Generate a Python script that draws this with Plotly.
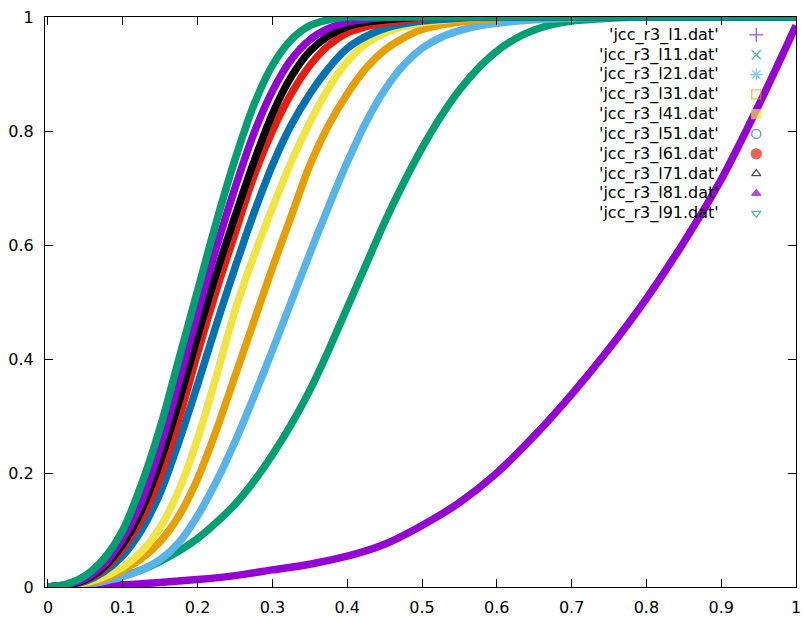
import plotly.graph_objects as go

# ---------------- data ----------------
labels = ["'jcc_r3_l1.dat'", "'jcc_r3_l11.dat'", "'jcc_r3_l21.dat'", "'jcc_r3_l31.dat'",
          "'jcc_r3_l41.dat'", "'jcc_r3_l51.dat'", "'jcc_r3_l61.dat'", "'jcc_r3_l71.dat'",
          "'jcc_r3_l81.dat'", "'jcc_r3_l91.dat'"]

x_l1 = [0, 0.05, 0.1, 0.15, 0.2, 0.25, 0.3, 0.35, 0.4, 0.45, 0.5, 0.55, 0.6, 0.65, 0.7, 0.75, 0.8, 0.85,
        0.9, 0.95, 1.0]
y_l1 = [0, 0.002, 0.004, 0.008, 0.013, 0.02, 0.03, 0.04, 0.054, 0.075, 0.108, 0.148, 0.2, 0.265, 0.338,
        0.418, 0.506, 0.605, 0.715, 0.845, 0.985]

x_l11 = [0, 0.05, 0.075, 0.1, 0.125, 0.15, 0.175, 0.2, 0.225, 0.25, 0.275, 0.3, 0.325, 0.35, 0.375, 0.4,
         0.425, 0.45, 0.475, 0.5, 0.525, 0.55, 0.575, 0.6, 0.625, 0.65, 0.675, 0.7, 0.75, 0.8, 1.0]
y_l11 = [0, 0.006, 0.012, 0.02, 0.03, 0.045, 0.063, 0.085, 0.113, 0.145, 0.185, 0.232, 0.285, 0.345, 0.415,
         0.49, 0.565, 0.64, 0.708, 0.77, 0.825, 0.872, 0.91, 0.94, 0.962, 0.977, 0.987, 0.993, 0.998, 1.0, 1.0]

x_l21 = [0, 0.05, 0.075, 0.1, 0.125, 0.15, 0.175, 0.2, 0.225, 0.25, 0.275, 0.3, 0.325, 0.35, 0.375, 0.4,
         0.425, 0.45, 0.475, 0.5, 0.525, 0.55, 0.575, 0.6, 0.65, 0.7, 0.8, 1.0]
y_l21 = [0, 0.004, 0.01, 0.018, 0.03, 0.048, 0.078, 0.125, 0.185, 0.255, 0.333, 0.415, 0.5, 0.585, 0.667,
         0.745, 0.815, 0.872, 0.915, 0.945, 0.964, 0.976, 0.984, 0.989, 0.995, 0.998, 1.0, 1.0]

x_fast = [0, 0.025, 0.05, 0.075, 0.1, 0.125, 0.15, 0.175, 0.2, 0.225, 0.25, 0.275, 0.3, 0.325, 0.35, 0.375,
          0.4, 0.425, 0.45, 0.475, 0.5, 0.55, 0.6, 0.65, 0.8, 1.0]
y_l31 = [0, 0.002, 0.006, 0.014, 0.03, 0.05, 0.08, 0.125, 0.19, 0.275, 0.37, 0.465, 0.56, 0.65, 0.74, 0.81,
         0.865, 0.91, 0.942, 0.963, 0.978, 0.991, 0.997, 1.0, 1.0, 1.0]
y_l41 = [0, 0.002, 0.008, 0.018, 0.035, 0.062, 0.105, 0.17, 0.26, 0.37, 0.485, 0.58, 0.665, 0.745, 0.815, 0.875,
         0.922, 0.953, 0.972, 0.983, 0.99, 0.997, 1.0, 1.0, 1.0, 1.0]
y_l51 = [0, 0.003, 0.01, 0.027, 0.055, 0.1, 0.165, 0.255, 0.355, 0.46, 0.56, 0.655, 0.74, 0.81, 0.865, 0.91,
         0.945, 0.966, 0.98, 0.988, 0.993, 0.998, 1.0, 1.0, 1.0, 1.0]
y_l61 = [0, 0.003, 0.012, 0.032, 0.068, 0.12, 0.195, 0.295, 0.41, 0.52, 0.62, 0.72, 0.80, 0.865, 0.915, 0.95,
         0.972, 0.983, 0.99, 0.994, 0.997, 1.0, 1.0, 1.0, 1.0, 1.0]
y_l71 = [0, 0.003, 0.013, 0.035, 0.075, 0.135, 0.22, 0.325, 0.44, 0.55, 0.65, 0.745, 0.83, 0.895, 0.94, 0.967,
         0.983, 0.991, 0.995, 0.998, 1.0, 1.0, 1.0, 1.0, 1.0, 1.0]
y_l81 = [0, 0.004, 0.015, 0.04, 0.085, 0.15, 0.245, 0.36, 0.48, 0.595, 0.70, 0.795, 0.87, 0.925, 0.96, 0.98,
         0.991, 0.996, 0.999, 1.0, 1.0, 1.0, 1.0, 1.0, 1.0, 1.0]
y_l91 = [0, 0.005, 0.02, 0.05, 0.10, 0.18, 0.28, 0.40, 0.52, 0.64, 0.75, 0.845, 0.915, 0.96, 0.985, 0.995,
         1.0, 1.0, 1.0, 1.0, 1.0, 1.0, 1.0, 1.0, 1.0, 1.0]

series_x = [x_l1, x_l11, x_l21, x_fast, x_fast, x_fast, x_fast, x_fast, x_fast, x_fast]
series_y = [y_l1, y_l11, y_l21, y_l31, y_l41, y_l51, y_l61, y_l71, y_l81, y_l91]

x_ticks = [0, 0.1, 0.2, 0.3, 0.4, 0.5, 0.6, 0.7, 0.8, 0.9, 1]
x_tick_text = ["0", "0.1", "0.2", "0.3", "0.4", "0.5", "0.6", "0.7", "0.8", "0.9", "1"]
y_ticks = [0, 0.2, 0.4, 0.6, 0.8, 1]
y_tick_text = ["0", "0.2", "0.4", "0.6", "0.8", "1"]

# ---------------- styles ----------------
colors = ["#9400D3", "#009E73", "#56B4E9", "#E69F00", "#F0E442",
          "#0072B2", "#E51E10", "#000000", "#9400D3", "#009E73"]
symbols = ["cross-thin-open", "x-thin-open", "asterisk-open", "square-open", "square",
           "circle-open", "circle", "triangle-up-open", "triangle-up", "triangle-down-open"]
sym_sizes = [10, 9, 10, 9, 9, 9, 10, 8, 8, 8]

W, H = 803, 619
L, R, T, B = 45, 2, 17, 27
FONT = "DejaVu Sans, sans-serif"

fig = go.Figure()
for xs, ys, c, name in zip(series_x, series_y, colors, labels):
    fig.add_trace(go.Scatter(x=xs, y=ys, mode="lines", name=name, showlegend=False,
                             line=dict(color=c, width=7.5, shape="spline", smoothing=0.9),
                             cliponaxis=False, hoverinfo="skip"))

# key (gnuplot style: text right-aligned, symbol to its right)
plot_w = W - L - R
plot_h = H - T - B
row0_px, row_step_px = 35, 20
text_right_px, sym_px = 725, 761
key_y = [(H - B - (row0_px + i * row_step_px)) / plot_h for i in range(len(labels))]
fig.add_trace(go.Scatter(x=[(sym_px - L) / plot_w] * len(labels), y=key_y, mode="markers",
                         xaxis="x2", yaxis="y2", showlegend=False, hoverinfo="skip",
                         cliponaxis=False,
                         marker=dict(symbol=symbols, color=colors, size=sym_sizes,
                                     line=dict(color=colors, width=1.3))))
for lab, yy in zip(labels, key_y):
    fig.add_annotation(x=(text_right_px - L) / plot_w, y=yy, xref="paper", yref="paper",
                       text=lab, showarrow=False, xanchor="right", yanchor="middle",
                       font=dict(family=FONT, size=16, color="#000000"))

axis_common = dict(showgrid=False, zeroline=False, showline=True, linecolor="#000000",
                   linewidth=1, ticks="inside", ticklen=8, tickwidth=1, tickcolor="#000000",
                   mirror="ticks", ticklabeloverflow="allow",
                   tickfont=dict(family=FONT, size=16, color="#000000"))

fig.update_layout(
    width=W, height=H,
    margin=dict(l=L, r=R, t=T, b=B, pad=0),
    paper_bgcolor="white", plot_bgcolor="white",
    showlegend=False,
    xaxis=dict(range=[-0.004, 1.0], tickmode="array", tickvals=x_ticks, ticktext=x_tick_text,
               ticklabelstandoff=6, **axis_common),
    yaxis=dict(range=[0, 1], tickmode="array", tickvals=y_ticks, ticktext=y_tick_text,
               ticklabelstandoff=7, **axis_common),
    xaxis2=dict(range=[0, 1], overlaying="x", visible=False, anchor="y2"),
    yaxis2=dict(range=[0, 1], overlaying="y", visible=False, anchor="x2"),
)

fig.write_html("out.html")
